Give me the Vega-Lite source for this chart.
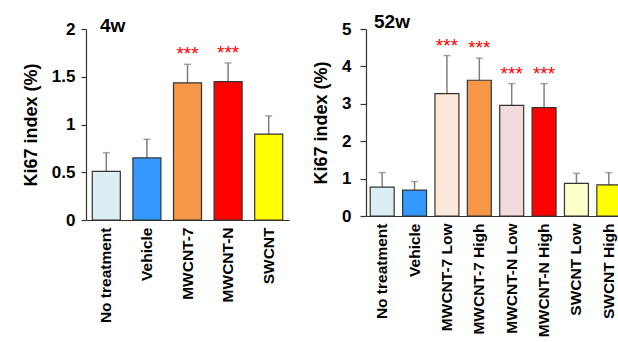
{
  "$schema": "https://vega.github.io/schema/vega-lite/v6.json",
  "padding": {"left": 22, "top": 13, "right": 0, "bottom": 0},
  "background": "white",
  "config": {
    "font": "Liberation Sans",
    "view": {"stroke": null},
    "axis": {"labelFont": "Liberation Sans", "titleFont": "Liberation Sans", "labelFontWeight": "bold", "titleFontWeight": "bold", "labelColor": "black", "titleColor": "black", "domainColor": "#333333", "tickColor": "#333333", "domainWidth": 1.2, "tickWidth": 1.2, "grid": false, "labelOverlap": false},
    "title": {"font": "Liberation Sans", "fontWeight": "bold", "color": "black"}
  },
  "datasets": {
    "w4": [
      {"group": "No treatment", "value": 0.51, "upper": 0.705, "sig": ""},
      {"group": "Vehicle", "value": 0.65, "upper": 0.845, "sig": ""},
      {"group": "MWCNT-7", "value": 1.435, "upper": 1.63, "sig": "***"},
      {"group": "MWCNT-N", "value": 1.45, "upper": 1.645, "sig": "***"},
      {"group": "SWCNT", "value": 0.9, "upper": 1.09, "sig": ""}
    ],
    "w52": [
      {"group": "No treatment", "value": 0.77, "upper": 1.16, "sig": ""},
      {"group": "Vehicle", "value": 0.69, "upper": 0.92, "sig": ""},
      {"group": "MWCNT-7 Low", "value": 3.27, "upper": 4.29, "sig": "***"},
      {"group": "MWCNT-7 High", "value": 3.63, "upper": 4.22, "sig": "***"},
      {"group": "MWCNT-N Low", "value": 2.96, "upper": 3.54, "sig": "***"},
      {"group": "MWCNT-N High", "value": 2.9, "upper": 3.54, "sig": "***"},
      {"group": "SWCNT Low", "value": 0.87, "upper": 1.14, "sig": ""},
      {"group": "SWCNT High", "value": 0.83, "upper": 1.16, "sig": ""}
    ]
  },
  "hconcat": [
    {
      "width": 203,
      "height": 191,
      "data": {"name": "w4"},
      "title": {"text": "4w", "anchor": "start", "frame": "group", "dx": 14, "offset": -16, "fontSize": 19},
      "encoding": {
        "x": {"field": "group", "type": "nominal", "sort": null,
              "scale": {"paddingInner": 0.31, "paddingOuter": 0.155},
              "axis": {"title": null, "labelAngle": -90, "labelFontSize": 15.5, "ticks": false, "labelPadding": 7}}
      },
      "layer": [
        {"mark": {"type": "rule", "color": "#7f7f7f", "strokeWidth": 1.5},
         "encoding": {"y": {"field": "value", "type": "quantitative", "scale": {"domain": [0, 2], "nice": false},
                 "axis": {"values": [0, 0.5, 1, 1.5, 2], "format": "~g", "title": "Ki67 index (%)", "labelFontSize": 17, "titleFontSize": 18, "tickSize": 5, "labelPadding": 6, "titlePadding": 11, "labelOverlap": false}},
                      "y2": {"field": "upper"}}},
        {"mark": {"type": "tick", "color": "#7f7f7f", "thickness": 1.5, "size": 7},
         "encoding": {"y": {"field": "upper", "type": "quantitative", "scale": {"domain": [0, 2], "nice": false},
                 "axis": {"values": [0, 0.5, 1, 1.5, 2], "format": "~g", "title": "Ki67 index (%)", "labelFontSize": 17, "titleFontSize": 18, "tickSize": 5, "labelPadding": 6, "titlePadding": 11, "labelOverlap": false}}}},
        {"mark": {"type": "bar", "stroke": "#333333", "strokeWidth": 1.2},
         "encoding": {
           "y": {"field": "value", "type": "quantitative",
                 "scale": {"domain": [0, 2], "nice": false},
                 "axis": {"values": [0, 0.5, 1, 1.5, 2], "format": "~g", "title": "Ki67 index (%)", "labelFontSize": 17, "titleFontSize": 18, "tickSize": 5, "labelPadding": 6, "titlePadding": 11, "labelOverlap": false}},
           "color": {"field": "group", "type": "nominal", "legend": null,
                     "scale": {"domain": ["No treatment", "Vehicle", "MWCNT-7", "MWCNT-N", "SWCNT"],
                               "range": ["#DAEEF3", "#3399FF", "#F79646", "#FF0000", "#FFFF00"]}}
         }},
        {"transform": [{"filter": "datum.sig != ''"}],
         "mark": {"type": "text", "color": "#FF0000", "fontSize": 19, "dy": -4, "baseline": "alphabetic"},
         "encoding": {"y": {"field": "upper", "type": "quantitative", "scale": {"domain": [0, 2], "nice": false},
                 "axis": {"values": [0, 0.5, 1, 1.5, 2], "format": "~g", "title": "Ki67 index (%)", "labelFontSize": 17, "titleFontSize": 18, "tickSize": 5, "labelPadding": 6, "titlePadding": 11, "labelOverlap": false}},
                      "text": {"field": "sig"}}}
      ]
    },
    {
      "width": 259,
      "height": 187,
      "data": {"name": "w52"},
      "title": {"text": "52w", "anchor": "start", "frame": "group", "dx": 8, "offset": -12, "fontSize": 19},
      "encoding": {
        "x": {"field": "group", "type": "nominal", "sort": null,
              "scale": {"paddingInner": 0.26, "paddingOuter": 0.13},
              "axis": {"title": null, "labelAngle": -90, "labelFontSize": 15.5, "ticks": false, "labelPadding": 7}}
      },
      "layer": [
        {"mark": {"type": "rule", "color": "#7f7f7f", "strokeWidth": 1.5},
         "encoding": {"y": {"field": "value", "type": "quantitative", "scale": {"domain": [0, 5], "nice": false},
                 "axis": {"values": [0, 1, 2, 3, 4, 5], "format": "~g", "title": "Ki67 index (%)", "labelFontSize": 17, "titleFontSize": 18, "tickSize": 6, "labelPadding": 9, "titlePadding": 11, "labelOverlap": false}},
                      "y2": {"field": "upper"}}},
        {"mark": {"type": "tick", "color": "#7f7f7f", "thickness": 1.5, "size": 7},
         "encoding": {"y": {"field": "upper", "type": "quantitative", "scale": {"domain": [0, 5], "nice": false},
                 "axis": {"values": [0, 1, 2, 3, 4, 5], "format": "~g", "title": "Ki67 index (%)", "labelFontSize": 17, "titleFontSize": 18, "tickSize": 6, "labelPadding": 9, "titlePadding": 11, "labelOverlap": false}}}},
        {"mark": {"type": "bar", "stroke": "#333333", "strokeWidth": 1.2},
         "encoding": {
           "y": {"field": "value", "type": "quantitative",
                 "scale": {"domain": [0, 5], "nice": false},
                 "axis": {"values": [0, 1, 2, 3, 4, 5], "format": "~g", "title": "Ki67 index (%)", "labelFontSize": 17, "titleFontSize": 18, "tickSize": 6, "labelPadding": 9, "titlePadding": 11, "labelOverlap": false}},
           "color": {"field": "group", "type": "nominal", "legend": null,
                     "scale": {"domain": ["No treatment", "Vehicle", "MWCNT-7 Low", "MWCNT-7 High", "MWCNT-N Low", "MWCNT-N High", "SWCNT Low", "SWCNT High"],
                               "range": ["#DAEEF3", "#3399FF", "#FDE9D9", "#F79646", "#F2DCDB", "#FF0000", "#FFFFCC", "#FFFF00"]}}
         }},
        {"transform": [{"filter": "datum.sig != ''"}],
         "mark": {"type": "text", "color": "#FF0000", "fontSize": 19, "dy": -4, "baseline": "alphabetic"},
         "encoding": {"y": {"field": "upper", "type": "quantitative", "scale": {"domain": [0, 5], "nice": false},
                 "axis": {"values": [0, 1, 2, 3, 4, 5], "format": "~g", "title": "Ki67 index (%)", "labelFontSize": 17, "titleFontSize": 18, "tickSize": 6, "labelPadding": 9, "titlePadding": 11, "labelOverlap": false}},
                      "text": {"field": "sig"}}}
      ]
    }
  ],
  "spacing": 23,
  "resolve": {"scale": {"color": "independent", "y": "independent", "x": "independent"}}
}
